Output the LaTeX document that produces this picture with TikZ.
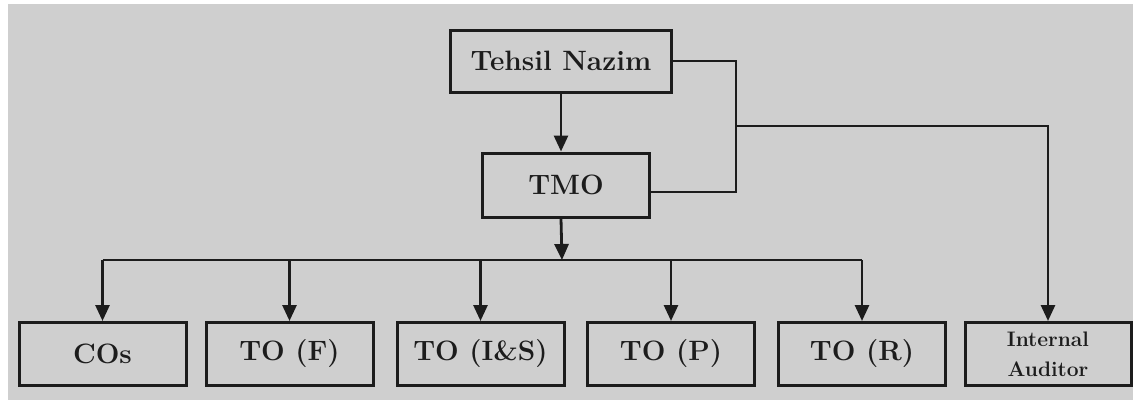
\documentclass[tikz,border=0pt]{standalone}
\usetikzlibrary{arrows.meta,calc}
\definecolor{bg}{HTML}{CFCFCF}
\definecolor{ink}{HTML}{1C1C1C}
\begin{document}
\begin{tikzpicture}[x=1pt,y=-1pt,
  box/.style={draw=ink,line width=3pt,minimum width=167pt,minimum height=63pt,inner sep=0pt,
    font=\fontsize{28}{30}\selectfont\bfseries,text=ink},
  conn/.style={draw=ink,line width=2.8pt,line join=miter},
  arr/.style={conn,-{Triangle[width=14pt,length=16pt]}}]
\fill[white] (0,0) rectangle (1133,400);
\fill[bg] (8,4) rectangle (1133,400);
\useasboundingbox (0,0) rectangle (1133,400);
\node[box,minimum width=221pt,minimum height=62pt] (tn) at (561,61) {Tehsil Nazim};
\node[box,minimum height=64pt] (tmo) at (566,185) {TMO};
\node[box] (cos)  at (102.5,354) {COs};
\node[box] (tof)  at (289.5,354) {TO (F)};
\node[box] (tois) at (480.5,354) {TO (I\&S)};
\node[box] (top)  at (671,354) {TO (P)};
\node[box] (tor)  at (862,354) {TO (R)};
\node[box,minimum width=166pt,align=center,font=\fontsize{21}{30}\selectfont\bfseries] (ia) at (1048,354) {Internal\\Auditor};
\coordinate (bus) at (562,260);
\coordinate (jx) at (736,126);
\coordinate (tmoR) at ($(tmo.east)+(0,7)$);
\draw[arr] (tn.south) -- (tn.south |- tmo.north);
\draw[arr] (tmo.south -| tn.south) -- (bus);
\draw[conn] (cos.north |- bus) -- (tor.north |- bus);
\foreach \n in {cos,tof,tois,top,tor} \draw[arr] (\n.north |- bus) -- (\n.north);
\draw[conn] (tn.east) -| (jx) -- (jx |- tmoR) -- (tmoR);
\draw[arr] (jx) -| (ia.north);
\end{tikzpicture}
\end{document}
